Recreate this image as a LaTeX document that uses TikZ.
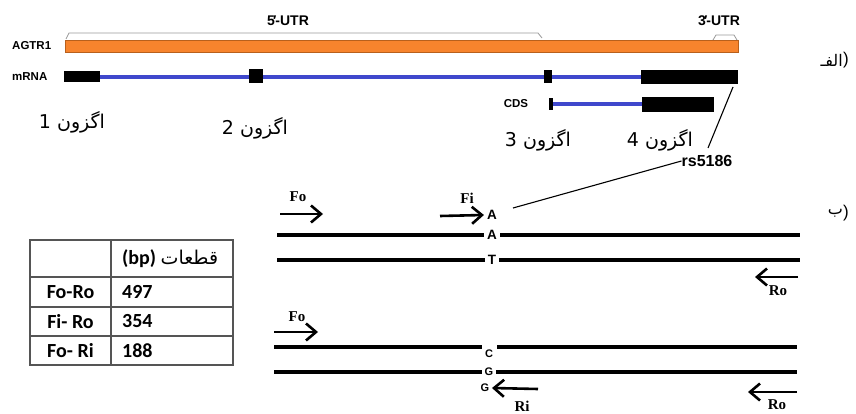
\documentclass[tikz,border=0pt]{standalone}
\usepackage{fontspec}
\setmainfont{Liberation Sans}
\newfontfamily\arabicfont[Script=Arabic]{DejaVu Sans}
\newfontfamily\timesfont{Liberation Serif}
\newfontfamily\calfont{Carlito}
\usetikzlibrary{arrows.meta}
\TeXXeTstate=1
\definecolor{geneorange}{HTML}{F7842D}
\definecolor{geneedge}{HTML}{B8601C}
\definecolor{rnablue}{HTML}{3F48CC}
\definecolor{tblgray}{HTML}{555555}
\newcommand{\myprime}{\kern-0.12em\raisebox{0.5pt}{′}\kern-0.08em}
\tikzset{
 lbl/.style={font=\bfseries\fontsize{11.5}{13}\selectfont, inner sep=0pt},
 cdslbl/.style={font=\bfseries\fontsize{11.5}{13}\selectfont, inner sep=0pt},
 rslbl/.style={font=\bfseries\fontsize{16}{18}\selectfont, inner sep=0pt},
 utr/.style={font=\bfseries\fontsize{14}{16}\selectfont, inner sep=0pt},
 exlbl/.style={font=\arabicfont\fontsize{19}{22}\selectfont, inner sep=0pt},
 partlbl/.style={font=\arabicfont\fontsize{16}{18}\selectfont, inner sep=0pt},
 parenlbl/.style={font=\fontsize{17}{19}\selectfont, inner sep=0pt},
 primer/.style={font=\timesfont\bfseries\fontsize{15}{17}\selectfont, inner sep=0pt},
 baseA/.style={font=\bfseries\fontsize{13.5}{15}\selectfont, inner xsep=3pt, inner ysep=0pt},
 baseC/.style={font=\bfseries\fontsize{11}{13}\selectfont, inner xsep=2.5pt, inner ysep=0pt},
 bracket/.style={draw=gray!80, line width=0.8pt},
 rnaline/.style={draw=rnablue, line width=4pt},
 strandline/.style={line width=3.2pt},
 primarrow/.style={line width=2.6pt, -{Straight Barb[length=10pt,width=17pt]}},
 tbltext/.style={font=\calfont\bfseries\fontsize{20}{22}\selectfont, inner sep=0pt},
 tblline/.style={draw=tblgray, line width=1.4pt},
 pointer/.style={line width=1.1pt},
}
\begin{document}
\begin{tikzpicture}[x=1pt,y=-1pt]
\useasboundingbox (0,0) rectangle (856,414);
% ---------- part (alef) ----------
\node[utr] (utr5) at (288,21) {5\myprime-UTR};
\node[utr] (utr3) at (719,21) {3\myprime-UTR};
\draw[bracket] (66,39) -- (69,33) -- (538,33) -- (542,38);
\draw[bracket] (713,40) -- (716,35) -- (734,35) -- (737,40);
\node[lbl, anchor=west] (agtr) at (12,46) {AGTR1};
\node[lbl, anchor=west] (mrna) at (12,77) {mRNA};
\filldraw[fill=geneorange, draw=geneedge, line width=0.8pt] (65,40) rectangle (738,52);
\draw[rnaline] (65,77.5) -- (738,77.5);
\fill (64,71) rectangle (100,82);
\fill (249,69) rectangle (263,83);
\fill (544,70) rectangle (552,83);
\fill (641,70) rectangle (738,84);
\node[cdslbl] (cds) at (516,104) {CDS};
\draw[rnaline] (552,104) -- (642,104);
\fill (549,98) rectangle (553,110);
\fill (642,97) rectangle (714,112);
\node[exlbl] (ex1) at (72,122) {\beginR اگزون 1\endR};
\node[exlbl] (ex2) at (255,128) {\beginR اگزون 2\endR};
\node[exlbl] (ex3) at (538,140) {\beginR اگزون 3\endR};
\node[exlbl] (ex4) at (660,140) {\beginR اگزون 4\endR};
\node[partlbl, anchor=east] (pa) at (843,60) {\beginR الفـ\endR};
\node[parenlbl, anchor=west] (pap) at (pa.east) {)};
% pointer to SNP
\coordinate (snp) at (733,87);
\coordinate (rsTop) at (708,148);
\node[rslbl] (rs) at (707,161) {rs5186};
\draw[pointer] (snp) -- (rsTop);
% ---------- part (be) ----------
\node[partlbl, anchor=east] (pb) at (843,213) {\beginR ب\endR};
\node[parenlbl, anchor=west] (pbp) at (pb.east) {)};
% upper duplex
\node[primer] (fo1) at (298,197) {Fo};
\coordinate (fo1s) at (280,214);
\coordinate (fo1e) at (323,214);
\draw[primarrow] (fo1s) -- (fo1e);
\node[primer] (fi) at (467,198) {Fi};
\node[baseA] (fiA) at (492,215) {A};
\coordinate (fis) at (440,216);
\draw[primarrow] (fis) -- (fiA.west);
\coordinate (rsEnd) at (513,208);
\draw[pointer] (rs.west) -- (rsEnd);
\coordinate (s1L) at (277,235);
\coordinate (s1R) at (800,235);
\node[baseA] (a1) at (492,235) {A};
\draw[strandline] (s1L) -- (a1);
\draw[strandline] (a1) -- (s1R);
\coordinate (s2L) at (277,260);
\coordinate (s2R) at (800,260);
\node[baseA] (t2) at (492,260) {T};
\draw[strandline] (s2L) -- (t2);
\draw[strandline] (t2) -- (s2R);
\coordinate (ro1s) at (798,277);
\coordinate (ro1e) at (755,277);
\draw[primarrow] (ro1s) -- (ro1e);
\node[primer] (ro1) at (778,291) {Ro};
% lower duplex
\node[primer] (fo2) at (297,317) {Fo};
\coordinate (fo2s) at (274,332);
\coordinate (fo2e) at (318,332);
\draw[primarrow] (fo2s) -- (fo2e);
\coordinate (s3L) at (274,347);
\coordinate (s3a) at (482,347);
\coordinate (s3b) at (497,347);
\coordinate (s3R) at (797,347);
\draw[strandline] (s3L) -- (s3a);
\draw[strandline] (s3b) -- (s3R);
\node[baseC] (c3) at (489,354) {C};
\coordinate (s4L) at (274,372);
\coordinate (s4R) at (797,372);
\node[baseC] (g4) at (489,372) {G};
\draw[strandline] (s4L) -- (g4);
\draw[strandline] (g4) -- (s4R);
\node[baseC] (g5) at (485,388) {G};
\coordinate (ris) at (538,389);
\draw[primarrow] (ris) -- (g5.east);
\node[primer] (ri) at (522,406) {Ri};
\coordinate (ro2s) at (797,392);
\coordinate (ro2e) at (748,392);
\draw[primarrow] (ro2s) -- (ro2e);
\node[primer] (ro2) at (777,405) {Ro};
% ---------- table ----------
\draw[tblline] (30,240) rectangle (233,365);
\draw[tblline] (111,240) -- (111,365);
\draw[tblline] (30,277) -- (233,277);
\draw[tblline] (30,307) -- (233,307);
\draw[tblline] (30,336) -- (233,336);
\node[tbltext, anchor=west] (hdr) at (122,259) {\beginR{\arabicfont\mdseries\fontsize{19}{22}\selectfont قطعات} \beginL(bp)\endL\endR};
\node[tbltext] (r1a) at (70.5,292) {Fo-Ro};
\node[tbltext, anchor=west] (r1b) at (122,292) {497};
\node[tbltext] (r2a) at (70.5,321.5) {Fi- Ro};
\node[tbltext, anchor=west] (r2b) at (122,321.5) {354};
\node[tbltext] (r3a) at (70.5,350.5) {Fo- Ri};
\node[tbltext, anchor=west] (r3b) at (122,350.5) {188};
\end{tikzpicture}
\end{document}
